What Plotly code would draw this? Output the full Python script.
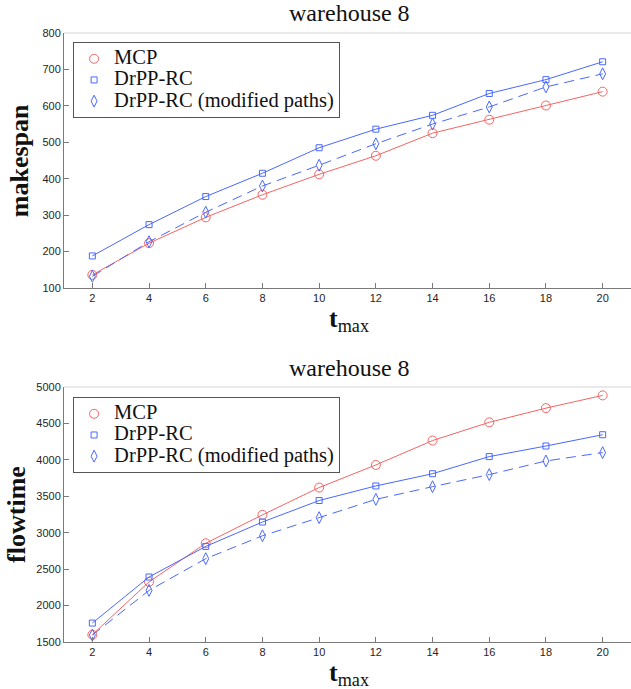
import plotly.graph_objects as go

t_max = [2, 4, 6, 8, 10, 12, 14, 16, 18, 20]

makespan_mcp = [136, 223, 294, 356, 412, 463, 525, 562, 601, 639]
makespan_drpp = [188, 274, 351, 415, 485, 536, 574, 634, 672, 721]
makespan_mod = [132, 227, 308, 380, 437, 496, 550, 597, 652, 688]

flowtime_mcp = [1600, 2325, 2855, 3245, 3620, 3930, 4265, 4515, 4710, 4885]
flowtime_drpp = [1760, 2392, 2812, 3147, 3442, 3642, 3810, 4045, 4190, 4345]
flowtime_mod = [1595, 2208, 2644, 2958, 3207, 3458, 3632, 3798, 3985, 4100]

series_names = ["MCP", "DrPP-RC", "DrPP-RC (modified paths)"]

RED = "#f56464"
BLUE = "#4a68ff"
SERIF = "Liberation Serif, Times New Roman, serif"
SANS = "Liberation Sans, Arial, sans-serif"

styles = [
    dict(color=RED, symbol="circle-open", size=9, dash="solid"),
    dict(color=BLUE, symbol="square-open", size=6, dash="solid"),
    dict(color=BLUE, symbol="diamond-tall-open", size=8.5, dash="10px,6px"),
]

fig = go.Figure()

def add_panel(ys, xaxis, yaxis, legend):
    for name, y, st in zip(series_names, ys, styles):
        fig.add_trace(go.Scatter(
            x=t_max, y=y, mode="lines+markers", name=name,
            xaxis=xaxis, yaxis=yaxis, showlegend=False,
            line=dict(color=st["color"], width=1, dash=st["dash"]),
            marker=dict(symbol=st["symbol"], size=st["size"], color=st["color"],
                        line=dict(color=st["color"], width=1)),
        ))
    for name, st in zip(series_names, styles):
        fig.add_trace(go.Scatter(
            x=[None], y=[None], mode="markers",
            name=f'<span style="font-size:20.5px">{name}</span>',
            xaxis=xaxis, yaxis=yaxis, legend=legend, showlegend=True,
            marker=dict(symbol=st["symbol"], size=st["size"], color=st["color"],
                        line=dict(color=st["color"], width=1)),
        ))

add_panel([makespan_mcp, makespan_drpp, makespan_mod], "x", "y", "legend")
add_panel([flowtime_mcp, flowtime_drpp, flowtime_mod], "x2", "y2", "legend2")

AX = "#7a7a7a"
xcommon = dict(range=[1, 21], tickvals=t_max, ticks="inside", ticklen=5, tickcolor=AX,
               showline=True, linecolor=AX, linewidth=1, showgrid=False, zeroline=False,
               tickfont=dict(family=SANS, size=11, color="#262626"))
ycommon = dict(ticks="inside", ticklen=5, tickcolor=AX, showline=True, linecolor=AX,
               linewidth=1, showgrid=False, zeroline=False,
               tickfont=dict(family=SANS, size=11, color="#262626"))

top_dom = [0.5813, 1.0]
bot_dom = [0.0, 0.4187]

legend_common = dict(bgcolor="white", bordercolor="#555555", borderwidth=1,
                     font=dict(family=SERIF, size=14, color="#111111"),
                     xanchor="left", yanchor="top", x=0.016, itemwidth=30)

fig.update_layout(
    width=631, height=689,
    margin=dict(l=64, r=0, t=33, b=47),
    paper_bgcolor="white", plot_bgcolor="white",
    xaxis=dict(domain=[0, 1], anchor="y", **xcommon),
    yaxis=dict(domain=top_dom, anchor="x", range=[100, 800], dtick=100, **ycommon),
    xaxis2=dict(domain=[0, 1], anchor="y2", **xcommon),
    yaxis2=dict(domain=bot_dom, anchor="x2", range=[1500, 5000], dtick=500, **ycommon),
    legend=dict(y=0.985, **legend_common),
    legend2=dict(y=0.402, **legend_common),
    shapes=[
        dict(type="line", xref="x domain", yref="y domain", x0=0, x1=1, y0=1, y1=1,
             line=dict(color="#d4d4d4", width=1)),
        dict(type="line", xref="x2 domain", yref="y2 domain", x0=0, x1=1, y0=1, y1=1,
             line=dict(color="#d4d4d4", width=1)),
    ],
)

def ann(text, x, y, size, bold=False, angle=0):
    return dict(text=f"<b>{text}</b>" if bold else text, x=x, y=y, xref="paper", yref="paper",
                showarrow=False, textangle=angle, xanchor="center", yanchor="middle",
                font=dict(family=SERIF, size=size, color="#111111"))

fig.update_layout(annotations=[
    ann("warehouse 8", 0.504, 1.033, 24),
    ann("warehouse 8", 0.504, 0.450, 24),
    ann("<b>t</b><sub>max</sub>", 0.503, 0.5285, 26),
    ann("<b>t</b><sub>max</sub>", 0.503, -0.052, 26),
    ann("makespan", -0.077, 0.79, 26, bold=True, angle=-90),
    ann("flowtime", -0.085, 0.21, 26, bold=True, angle=-90),
])

fig.write_html("out.html", config={"displayModeBar": False},
               post_script="document.body.style.margin='0';")
